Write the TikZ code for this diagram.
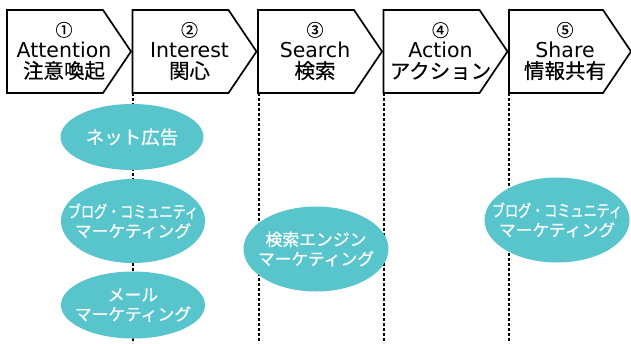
\documentclass[tikz,border=0pt]{standalone}
\usepackage{fontspec}
\setmainfont{Noto Sans CJK JP}[FakeBold=0.4]
\newfontfamily\latinfont{DejaVu Sans}
\newfontfamily\jpmed{Noto Sans CJK JP}[FakeBold=0.7]
\newfontfamily\jpnarrow{Noto Sans CJK JP}[FakeStretch=0.78,FakeBold=0.7]
\usetikzlibrary{shapes.geometric}
\definecolor{ovalfill}{RGB}{88,197,204}
\newcommand{\stepnum}[1]{{\fontsize{17}{21}\selectfont #1}}
\newcommand{\stepname}[1]{{\latinfont #1}}

\begin{document}
\begin{tikzpicture}[x=1pt,y=-1pt,
    stage/.style={draw=black,line width=1.7pt,line join=miter},
    stagetext/.style={align=center,inner sep=0pt,font=\fontsize{20.5}{21}\selectfont},
    oval/.style={ellipse,fill=ovalfill,inner sep=0pt},
    ovaltext/.style={align=center,inner sep=0pt,text=white,font=\jpmed\fontsize{16.8}{19.5}\selectfont},
    guide/.style={line width=2pt,dash pattern=on 2.5pt off 2.5pt}]
    \useasboundingbox (0,0) rectangle (631,343);

    % dotted guides under the stages
    \foreach \x in {133,258.5,384,509}
        \draw[guide] (\x,93) -- (\x,343);

    % stage arrows
    \foreach \x/\w in {7/96,132.5/96,258/96,383.5/96,509/94}
        \draw[stage] (\x,10) -- ++(\w,0) -- ++(28,41.5) -- ++(-28,41.5) -- ++(-\w,0) -- cycle;

    \node[stagetext] (att)   at (64,51)    {\stepnum{①}\\\stepname{Attention}\\注意喚起};
    \node[stagetext] (int)   at (189.5,51) {\stepnum{②}\\\stepname{Interest}\\関心};
    \node[stagetext] (sea)   at (315,51)   {\stepnum{③}\\\stepname{Search}\\検索};
    \node[stagetext] (act)   at (440.5,51) {\stepnum{④}\\\stepname{Action}\\アクション};
    \node[stagetext] (sha)   at (565,51)   {\stepnum{⑤}\\\stepname{Share}\\情報共有};

    % measures
    \node[oval,minimum width=143pt,minimum height=66pt] (ad)    at (132,137) {};
    \node[oval,minimum width=144pt,minimum height=84pt] (blog1) at (133,221) {};
    \node[oval,minimum width=144pt,minimum height=67pt] (mail)  at (133,305) {};
    \node[oval,minimum width=145pt,minimum height=85pt] (sem)   at (316,249) {};
    \node[oval,minimum width=145pt,minimum height=85pt] (blog2) at (557,220) {};

    \node[ovaltext,font=\jpmed\fontsize{18.5}{20}\selectfont] (adtxt) at (ad) {ネット広告};
    \node[ovaltext] (blog1txt) at (blog1) {{\jpnarrow ブログ・コミュニティ}\\マーケティング};
    \node[ovaltext] (mailtxt)  at (mail)  {メール\\マーケティング};
    \node[ovaltext] (semtxt)   at (sem)   {検索エンジン\\マーケティング};
    \node[ovaltext] (blog2txt) at (blog2) {{\jpnarrow ブログ・コミュニティ}\\マーケティング};
\end{tikzpicture}
\end{document}
